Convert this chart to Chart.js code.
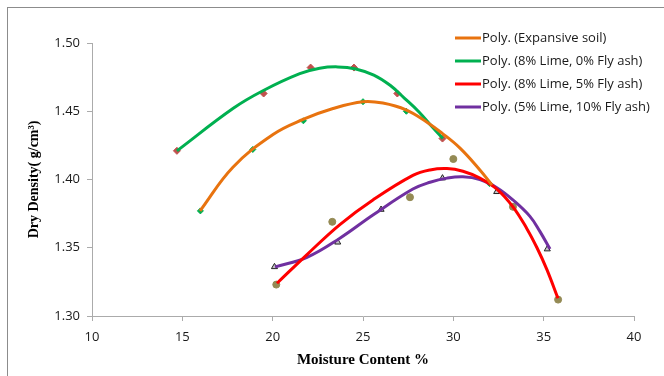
<!DOCTYPE html>
<html>
<head>
<meta charset="utf-8">
<script src="https://cdn.jsdelivr.net/npm/chart.js@4.4.1/dist/chart.umd.min.js"></script>
<style>
html,body{margin:0;padding:0;background:#fff;}
#wrap{width:664px;height:376px;position:relative;}
</style>
</head>
<body>
<div id="wrap"><canvas id="c" width="664" height="376"></canvas></div>
<script>
// ---- Data ----
const xTicks = [10, 15, 20, 25, 30, 35, 40];
const yTicks = [1.30, 1.35, 1.40, 1.45, 1.50];

const seriesNames = [
  "Poly. (Expansive soil)",
  "Poly. (8% Lime, 0% Fly ash)",
  "Poly. (8% Lime, 5% Fly ash)",
  "Poly. (5% Lime, 10% Fly ash)"
];

// measured points (markers)
const expansiveX = [16.0, 18.9, 21.7, 25.0, 27.4, 32.0];
const expansiveY = [1.377, 1.422, 1.443, 1.457, 1.450, 1.397];
const lime8fa0X = [14.7, 19.5, 22.1, 24.5, 26.9, 29.4];
const lime8fa0Y = [1.421, 1.463, 1.482, 1.482, 1.463, 1.430];
const lime8fa5X = [20.2, 23.3, 27.6, 30.0, 33.3, 35.8];
const lime8fa5Y = [1.323, 1.369, 1.387, 1.415, 1.380, 1.312];
const lime5fa10X = [20.1, 23.6, 26.0, 29.4, 32.4, 35.2];
const lime5fa10Y = [1.336, 1.354, 1.378, 1.401, 1.391, 1.349];

// trendline curves
const trendExpX = [15.98, 17.80, 20.02, 21.68, 23.34, 25.00, 26.10, 27.38, 28.54, 29.37, 30.37, 31.47, 32.14];
const trendExpY = [1.377, 1.409, 1.433, 1.444, 1.452, 1.457, 1.456, 1.451, 1.442, 1.434, 1.423, 1.407, 1.396];
const trend80X = [14.70, 17.80, 19.46, 21.50, 22.60, 23.60, 24.60, 25.60, 26.50, 27.30, 28.10, 28.80, 29.42];
const trend80Y = [1.421, 1.452, 1.465, 1.4775, 1.4815, 1.4825, 1.481, 1.4765, 1.469, 1.4595, 1.4495, 1.439, 1.430];
const trend85X = [20.24, 21.90, 23.72, 25.55, 27.76, 28.71, 29.65, 30.53, 31.47, 32.41, 33.30, 34.07, 34.63, 35.18, 35.79];
const trend85Y = [1.324, 1.345, 1.367, 1.385, 1.403, 1.407, 1.408, 1.406, 1.401, 1.393, 1.380, 1.364, 1.350, 1.334, 1.313];
const trend510X = [20.13, 21.90, 23.72, 25.55, 27.76, 28.71, 29.65, 30.53, 31.47, 32.41, 33.30, 34.24, 34.79, 35.35];
const trend510Y = [1.336, 1.343, 1.357, 1.374, 1.393, 1.398, 1.401, 1.402, 1.400, 1.394, 1.385, 1.373, 1.362, 1.349];

const pts = (xs, ys) => xs.map((x, i) => ({x: x, y: ys[i]}));

const C_ORANGE = '#e8730f';
const C_GREEN = '#00b050';
const C_RED = '#ff0000';
const C_PURPLE = '#7030a0';

function trend(label, xs, ys, color) {
  return {type: 'scatter', label: label, data: pts(xs, ys), showLine: true, borderColor: color,
    backgroundColor: color, borderWidth: 3, pointRadius: 0, pointHoverRadius: 0,
    tension: 0.4, isTrend: true, order: 0};
}
function markers(xs, ys, style, fill, stroke, r) {
  return {type: 'scatter', label: '', data: pts(xs, ys), showLine: false, pointStyle: style,
    pointRadius: r, backgroundColor: fill, borderColor: stroke, borderWidth: 1, order: 1};
}

const datasets = [
  trend(seriesNames[0], trendExpX, trendExpY, C_ORANGE),
  trend(seriesNames[1], trend80X, trend80Y, C_GREEN),
  trend(seriesNames[2], trend85X, trend85Y, C_RED),
  trend(seriesNames[3], trend510X, trend510Y, C_PURPLE),
  markers(expansiveX, expansiveY, 'rectRot', '#00b050', '#00b050', 3),
  markers(lime8fa0X, lime8fa0Y, 'rectRot', '#c0504d', '#c0504d', 3.5),
  markers(lime8fa5X, lime8fa5Y, 'circle', '#948a54', '#948a54', 3.5),
  markers(lime5fa10X, lime5fa10Y, 'triangle', 'rgba(160,160,160,0.6)', '#222222', 3.5)
];

const framePlugin = {
  id: 'frame',
  beforeDraw(chart) {
    const ctx = chart.ctx;
    ctx.save();
    ctx.fillStyle = '#ffffff';
    ctx.fillRect(0, 0, chart.width, chart.height);
    ctx.strokeStyle = '#8c8c8c';
    ctx.lineWidth = 1;
    ctx.strokeRect(7.5, 7.5, chart.width + 10, chart.height + 10);
    ctx.restore();
  }
};

const legendPlugin = {
  id: 'sideLegend',
  afterDraw(chart) {
    const ctx = chart.ctx;
    ctx.save();
    ctx.font = '13px "Open Sans", "Liberation Sans", sans-serif';
    ctx.textBaseline = 'middle';
    ctx.textAlign = 'left';
    let y = 38;
    chart.data.datasets.filter(d => d.isTrend).forEach(d => {
      ctx.strokeStyle = d.borderColor;
      ctx.lineWidth = 3;
      ctx.beginPath();
      ctx.moveTo(455, y);
      ctx.lineTo(481, y);
      ctx.stroke();
      ctx.fillStyle = '#1a1a1a';
      ctx.fillText(d.label, 482, y);
      y += 23;
    });
    ctx.restore();
  }
};

const tickFont = {family: '"Open Sans", "Liberation Sans", sans-serif', size: 13};
const xTitleFont = {family: '"Liberation Serif", "Times New Roman", serif', size: 15, weight: 'bold'};
const yTitleFont = {family: '"Liberation Serif", "Times New Roman", serif', size: 14, weight: 'bold'};

new Chart(document.getElementById('c'), {
  type: 'scatter',
  data: {datasets: datasets},
  options: {
    responsive: false,
    animation: false,
    events: [],
    layout: {padding: {left: 0, top: 43, right: 30, bottom: 0}},
    plugins: {legend: {display: false}, tooltip: {enabled: false}},
    scales: {
      x: {
        type: 'linear', min: 10, max: 40,
        afterBuildTicks: s => { s.ticks = xTicks.map(v => ({value: v})); },
        afterFit: s => { s.height = 60; },
        ticks: {font: tickFont, color: '#1a1a1a', padding: 8, maxRotation: 0},
        grid: {drawOnChartArea: false, drawTicks: true, tickLength: 5, color: '#ababab'},
        border: {color: '#ababab', width: 1},
        title: {display: true, text: 'Moisture Content %', font: xTitleFont, color: '#000', padding: {top: 0, bottom: 7}}
      },
      y: {
        type: 'linear', min: 1.30, max: 1.50,
        afterBuildTicks: s => { s.ticks = yTicks.map(v => ({value: v})); },
        afterFit: s => { s.width = 92; },
        ticks: {font: tickFont, color: '#1a1a1a', padding: 7, callback: v => v.toFixed(2)},
        grid: {drawOnChartArea: false, drawTicks: true, tickLength: 5, color: '#ababab'},
        border: {color: '#ababab', width: 1},
        title: {display: true, text: 'Dry Density( g/cm\u00B3)', font: yTitleFont, color: '#000', padding: {top: 26, bottom: 0}}
      }
    }
  },
  plugins: [framePlugin, legendPlugin]
});
</script>
</body>
</html>
